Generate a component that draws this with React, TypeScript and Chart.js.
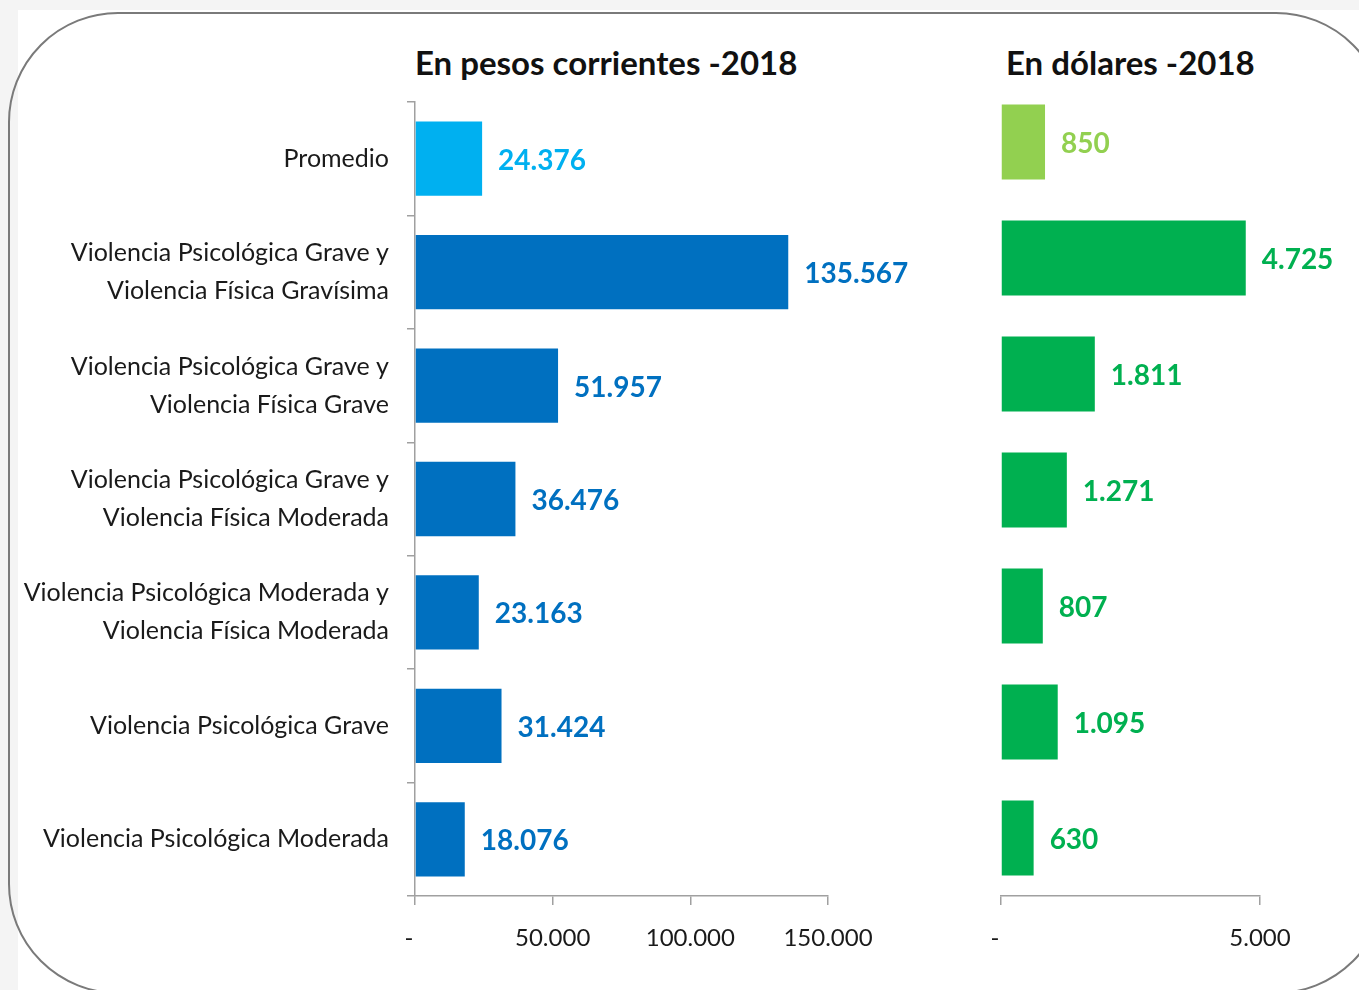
import React, { useEffect, useRef } from "react";
import { Chart, registerables } from "chart.js";

Chart.register(...registerables);

const categories: (string | string[])[] = [
  "Promedio",
  ["Violencia Psicológica Grave y", "Violencia Física Gravísima"],
  ["Violencia Psicológica Grave y", "Violencia Física Grave"],
  ["Violencia Psicológica Grave y", "Violencia Física Moderada"],
  ["Violencia Psicológica Moderada y", "Violencia Física Moderada"],
  "Violencia Psicológica Grave",
  "Violencia Psicológica Moderada",
];
const pesos = [24376, 135567, 51957, 36476, 23163, 31424, 18076];
const dolares = [850, 4725, 1811, 1271, 807, 1095, 630];
const pesosTicks = [0, 50000, 100000, 150000];
const dolaresTicks = [0, 5000];
const titlePesos = "En pesos corrientes -2018";
const titleDolares = "En dólares -2018";

const FONT = "Lato";
const GRID = "#a0a0a0";

function fmt(v: number): string {
  if (v === 0) return "-  ";
  const s = Math.round(v).toString();
  return s.replace(/\B(?=(\d{3})+(?!\d))/g, ".");
}

const labelPlugin = {
  id: "valueLabels",
  afterDatasetsDraw(chart: any) {
    const ctx = chart.ctx;
    const ds = chart.data.datasets[0];
    const meta = chart.getDatasetMeta(0);
    ctx.save();
    ctx.font = `bold 28px ${FONT}`;
    ctx.textBaseline = "middle";
    ctx.textAlign = "left";
    meta.data.forEach((bar: any, i: number) => {
      ctx.fillStyle = ds.backgroundColor[i];
      ctx.fillText(fmt(ds.data[i]), bar.x + 16, bar.y + 2);
    });
    ctx.restore();
  },
};

function makeChart(
  canvas: HTMLCanvasElement,
  values: number[],
  colors: string[],
  max: number,
  tickVals: number[],
  showY: boolean,
  padding: any,
  barPct: number
) {
  return new Chart(canvas, {
    type: "bar",
    data: {
      labels: categories.slice(),
      datasets: [
        {
          data: values,
          backgroundColor: colors,
          barPercentage: barPct,
          categoryPercentage: 1,
        },
      ],
    },
    options: {
      indexAxis: "y",
      animation: false,
      responsive: false,
      maintainAspectRatio: false,
      layout: { padding },
      plugins: {
        legend: { display: false },
        tooltip: { enabled: false },
        title: { display: false },
      },
      scales: {
        x: {
          min: 0,
          max,
          afterBuildTicks: (scale: any) => {
            scale.ticks = tickVals.map((v) => ({ value: v }));
          },
          afterFit: (scale: any) => {
            scale.height = 60;
          },
          grid: {
            drawOnChartArea: false,
            drawTicks: true,
            tickLength: 9,
            color: GRID,
            lineWidth: 1.5,
          },
          border: { display: true, color: GRID, width: 1.5 },
          ticks: {
            padding: 19,
            color: "#1a1a1a",
            font: { family: FONT, size: 24 },
            maxRotation: 0,
            autoSkip: false,
            callback: (v: any) => fmt(Number(v)),
          },
        },
        y: {
          display: true,
          afterFit: (scale: any) => {
            scale.width = showY ? 415 : 0;
          },
          grid: {
            display: showY,
            offset: true,
            drawOnChartArea: false,
            drawTicks: showY,
            tickLength: 8,
            color: GRID,
            lineWidth: 1.5,
          },
          border: { display: showY, color: GRID, width: 1.5 },
          ticks: {
            display: showY,
            padding: 18,
            color: "#1a1a1a",
            font: { family: FONT, size: 25, lineHeight: 1.52 },
            autoSkip: false,
          },
        },
      },
    },
    plugins: [labelPlugin],
  } as any);
}

export default function App() {
  const leftRef = useRef<HTMLCanvasElement>(null);
  const rightRef = useRef<HTMLCanvasElement>(null);

  useEffect(() => {
    const left = makeChart(
      leftRef.current!,
      pesos,
      pesos.map((_, i) => (i === 0 ? "#00b0f0" : "#0070c0")),
      150000,
      pesosTicks,
      true,
      { top: 102, bottom: 34, left: 0, right: 132 },
      0.655
    );
    const right = makeChart(
      rightRef.current!,
      dolares,
      dolares.map((_, i) => (i === 0 ? "#92d050" : "#00b050")),
      5000,
      dolaresTicks,
      false,
      { top: 84, bottom: 34, left: 101, right: 99 },
      0.647
    );
    return () => {
      left.destroy();
      right.destroy();
    };
  }, []);

  const titleStyle: React.CSSProperties = {
    position: "absolute",
    top: 42,
    fontWeight: 700,
    fontSize: 33,
    lineHeight: "40px",
    color: "#111",
    whiteSpace: "nowrap",
  };

  return (
    <div
      style={{
        position: "absolute",
        left: 0,
        top: 0,
        width: 1359,
        height: 990,
        overflow: "hidden",
        background: "#f4f4f4",
        fontFamily: FONT,
      }}
    >
      <div
        style={{
          position: "absolute",
          left: 18,
          top: 10,
          width: 1400,
          height: 1000,
          background: "#ffffff",
        }}
      />
      <div
        style={{
          position: "absolute",
          left: 8,
          top: 12,
          width: 1378,
          height: 982,
          border: "2.5px solid #7a7a7a",
          borderRadius: 110,
          boxSizing: "border-box",
        }}
      />
      <div style={{ ...titleStyle, left: 415 }}>{titlePesos}</div>
      <div style={{ ...titleStyle, left: 1006 }}>{titleDolares}</div>
      <canvas
        ref={leftRef}
        width={960}
        height={990}
        style={{ position: "absolute", left: 0, top: 0, width: 960, height: 990 }}
      />
      <canvas
        ref={rightRef}
        width={459}
        height={990}
        style={{ position: "absolute", left: 900, top: 0, width: 459, height: 990 }}
      />
    </div>
  );
}
